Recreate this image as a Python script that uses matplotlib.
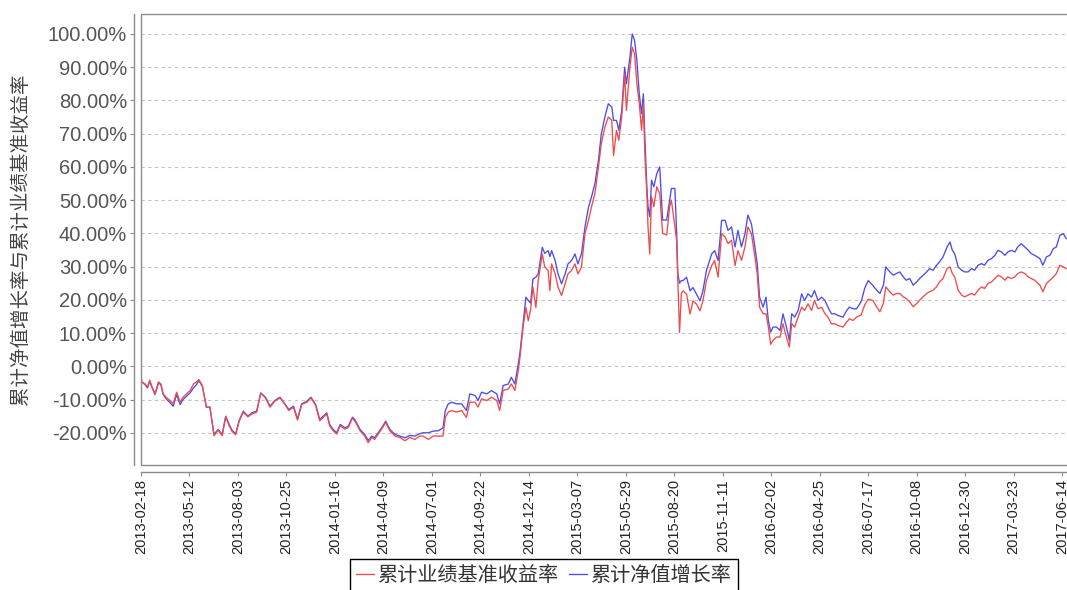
import matplotlib
matplotlib.use("Agg")
import matplotlib.pyplot as plt
from matplotlib.patches import Rectangle
from matplotlib.ticker import FuncFormatter, MultipleLocator, FixedLocator, FixedFormatter
import matplotlib.dates as mdates
import pandas as pd

start_date = "2013-02-18"
days = [0, 1, 7, 11, 15, 18, 24, 30, 34, 38, 44, 50, 55, 61, 67, 72, 78, 84, 90, 95, 99, 105, 112, 118, 125, 132, 139, 145, 151, 156, 162, 168, 175, 183, 190, 198, 205, 213, 221, 229, 238, 245, 253, 261, 268, 275, 284, 291, 299, 306, 312, 318, 323, 329, 335, 341, 349, 355, 362, 366, 375, 383, 389, 395, 400, 406, 412, 419, 426, 435, 443, 452, 460, 469, 477, 483, 492, 500, 509, 517, 521, 526, 532, 540, 549, 557, 563, 572, 577, 583, 592, 600, 609, 614, 620, 629, 634, 640, 646, 649, 654, 659, 663, 667, 671, 676, 680, 687, 691, 697, 700, 703, 709, 714, 720, 726, 731, 737, 743, 748, 754, 760, 766, 771, 777, 783, 788, 794, 800, 806, 809, 814, 818, 823, 828, 831, 837, 841, 845, 849, 853, 857, 860, 863, 866, 868, 871, 874, 878, 883, 888, 893, 900, 905, 908, 914, 917, 919, 922, 925, 928, 934, 940, 945, 951, 957, 962, 968, 977, 982, 988, 994, 1000, 1005, 1011, 1017, 1022, 1028, 1034, 1039, 1045, 1051, 1055, 1059, 1065, 1070, 1074, 1078, 1082, 1088, 1094, 1099, 1105, 1110, 1114, 1119, 1125, 1131, 1136, 1142, 1148, 1153, 1159, 1165, 1171, 1176, 1182, 1188, 1193, 1202, 1208, 1213, 1219, 1225, 1233, 1239, 1245, 1253, 1259, 1265, 1271, 1275, 1282, 1288, 1293, 1299, 1305, 1310, 1316, 1322, 1328, 1333, 1339, 1345, 1350, 1356, 1362, 1367, 1373, 1380, 1385, 1389, 1393, 1399, 1405, 1410, 1416, 1422, 1427, 1433, 1439, 1444, 1450, 1456, 1462, 1467, 1473, 1479, 1484, 1490, 1496, 1501, 1507, 1513, 1519, 1524, 1530, 1539, 1544, 1550, 1556, 1562, 1567, 1573, 1579, 1584]

benchmark = [-1.2, -4.7, -5.3, -6.3, -4.2, -5.8, -8.3, -4.7, -5.3, -8.3, -9.5, -10.3, -11.3, -7.8, -10.8, -9.3, -8.3, -7.3, -5.3, -4.7, -4.0, -5.8, -12.3, -12.3, -20.9, -19.2, -20.9, -15.2, -17.9, -19.6, -20.6, -16.6, -13.8, -15.2, -14.3, -13.8, -8.1, -9.5, -12.3, -10.5, -9.5, -11.1, -13.3, -12.3, -16.2, -11.5, -10.8, -9.5, -11.8, -16.4, -15.4, -14.3, -17.9, -19.4, -20.4, -17.9, -18.9, -18.4, -15.6, -16.4, -19.4, -21.0, -23.0, -21.4, -22.0, -20.4, -18.9, -16.9, -19.4, -21.0, -21.4, -22.4, -21.4, -22.0, -21.0, -21.0, -22.0, -21.0, -21.0, -21.0, -15.4, -13.8, -13.3, -13.8, -13.3, -15.4, -10.8, -10.8, -12.3, -9.8, -10.3, -9.3, -10.3, -13.3, -7.3, -6.8, -5.3, -7.3, -1.2, 3.0, 11.7, 17.7, 13.7, 17.0, 23.8, 17.7, 25.8, 33.8, 30.0, 28.8, 22.8, 30.8, 27.8, 23.8, 21.3, 24.8, 27.8, 28.8, 30.8, 27.8, 29.8, 39.8, 43.8, 47.8, 51.9, 59.8, 66.9, 71.9, 75.0, 74.0, 63.4, 71.0, 68.0, 75.0, 88.0, 77.0, 90.0, 96.0, 94.0, 85.0, 79.0, 71.0, 79.0, 62.0, 52.0, 42.0, 33.8, 51.0, 48.0, 54.0, 52.0, 40.0, 39.5, 48.0, 50.0, 42.0, 38.0, 26.0, 10.2, 21.8, 22.7, 21.7, 15.7, 19.7, 18.7, 16.7, 19.7, 25.8, 30.3, 31.8, 26.8, 39.9, 38.9, 36.9, 37.9, 30.3, 34.8, 31.9, 35.9, 41.9, 39.9, 32.9, 27.8, 17.8, 15.8, 15.8, 11.8, 6.6, 7.8, 8.8, 8.8, 12.8, 8.8, 5.8, 12.8, 11.8, 14.8, 17.8, 16.8, 18.8, 16.8, 19.8, 17.3, 17.8, 15.8, 14.8, 12.8, 12.8, 12.3, 11.8, 13.3, 14.3, 13.8, 14.8, 15.5, 18.5, 20.2, 19.8, 18.0, 16.4, 19.0, 23.9, 22.4, 21.4, 21.9, 21.9, 20.9, 20.4, 19.4, 17.9, 18.9, 19.9, 20.9, 21.9, 22.4, 22.9, 23.9, 25.4, 26.4, 29.4, 29.9, 27.9, 26.9, 22.9, 21.4, 20.9, 21.4, 21.9, 21.4, 22.9, 23.9, 23.4, 24.9, 25.4, 26.4, 27.4, 26.9, 25.9, 26.9, 26.4, 26.9, 27.9, 28.4, 27.9, 26.9, 26.4, 25.9, 24.4, 22.4, 24.9, 25.9, 26.9, 27.9, 30.4, 29.9, 29.4]

nav = [-1.2, -4.7, -5.5, -6.5, -4.5, -6.0, -8.5, -5.0, -5.5, -8.5, -10.0, -11.0, -12.0, -8.5, -11.5, -10.0, -9.0, -8.0, -6.5, -5.5, -4.3, -6.0, -12.3, -12.3, -20.5, -19.0, -20.5, -15.0, -17.5, -19.3, -20.3, -16.3, -13.5, -15.0, -14.0, -13.5, -8.0, -9.3, -12.0, -10.3, -9.3, -11.0, -13.0, -12.0, -15.8, -11.3, -10.5, -9.3, -11.5, -16.0, -15.0, -14.0, -17.5, -19.0, -20.0, -17.5, -18.5, -18.0, -15.3, -16.0, -19.0, -20.5, -22.3, -21.0, -21.5, -20.0, -18.5, -16.5, -19.0, -20.5, -21.0, -21.5, -20.8, -21.0, -20.3, -20.0, -20.0, -19.5, -19.4, -18.5, -13.3, -11.3, -10.8, -11.3, -11.3, -13.3, -8.3, -8.8, -10.3, -7.8, -8.3, -7.3, -8.3, -11.3, -5.8, -5.3, -3.3, -5.3, 0.8, 4.5, 12.7, 20.8, 19.8, 19.0, 26.3, 26.8, 27.8, 35.8, 34.0, 34.8, 33.0, 34.8, 31.8, 27.8, 24.8, 27.8, 30.8, 31.8, 33.8, 30.8, 33.8, 41.8, 47.8, 50.8, 54.9, 61.8, 69.9, 74.9, 79.0, 78.0, 74.0, 74.0, 71.0, 77.0, 90.0, 85.0, 93.0, 100.0, 98.0, 92.0, 82.0, 76.0, 82.0, 67.0, 54.0, 48.0, 45.0, 56.0, 54.0, 58.0, 60.0, 44.0, 44.0, 50.0, 53.5, 53.5, 40.0, 28.0, 25.0, 25.8, 25.8, 26.8, 22.7, 23.7, 21.7, 19.7, 22.7, 28.8, 33.8, 34.8, 31.8, 43.9, 43.9, 40.9, 41.9, 35.9, 40.9, 35.9, 39.9, 45.5, 42.9, 35.9, 30.8, 20.8, 17.8, 20.8, 13.8, 10.3, 11.8, 11.8, 10.8, 15.8, 11.8, 7.8, 15.8, 14.8, 16.8, 21.8, 19.8, 21.8, 20.8, 22.8, 19.8, 20.8, 19.8, 17.8, 15.8, 15.8, 15.3, 14.8, 16.8, 17.8, 17.3, 17.3, 19.5, 23.5, 25.8, 24.3, 23.0, 21.9, 24.4, 29.9, 28.4, 27.4, 27.9, 28.4, 26.9, 25.9, 26.4, 24.4, 25.4, 26.4, 27.4, 28.4, 29.4, 28.9, 30.4, 31.4, 32.9, 35.9, 37.4, 34.9, 33.9, 29.9, 28.9, 28.4, 28.4, 29.4, 28.9, 30.4, 30.9, 30.4, 31.9, 32.4, 33.4, 34.9, 34.4, 33.4, 34.4, 34.9, 34.4, 35.9, 36.9, 35.9, 34.9, 33.9, 33.4, 32.4, 30.4, 32.9, 33.4, 35.4, 35.9, 39.4, 39.9, 38.4]

tick_labels = ["2013-02-18", "2013-05-12", "2013-08-03", "2013-10-25", "2014-01-16",
               "2014-04-09", "2014-07-01", "2014-09-22", "2014-12-14", "2015-03-07",
               "2015-05-29", "2015-08-20", "2015-11-11", "2016-02-02", "2016-04-25",
               "2016-07-17", "2016-10-08", "2016-12-30", "2017-03-23", "2017-06-14"]

label_bench = "累计业绩基准收益率"
label_nav = "累计净值增长率"
y_label = "累计净值增长率与累计业绩基准收益率"

cjk = ["Noto Sans CJK SC", "DejaVu Sans"]
plt.rcParams["font.family"] = ["Liberation Sans", "Noto Sans CJK SC", "DejaVu Sans"]

dates = pd.Timestamp(start_date) + pd.to_timedelta(days, unit="D")

W, H = 1067, 590
fig = plt.figure(figsize=(W / 100, H / 100), dpi=100)
left, right, top, bottom = 141, 1068, 14, 465
ax = fig.add_axes([left / W, (H - bottom) / H, (right - left) / W, (bottom - top) / H])

l_nav, = ax.plot(dates, nav, color="#4B4BEE", lw=0.95, label=label_nav, zorder=3)
l_bench, = ax.plot(dates, benchmark, color="#EE4B4B", lw=0.95, label=label_bench, zorder=4)

ax.set_ylim(-29.7, 106.0)
x0 = pd.Timestamp(start_date)
ax.set_xlim(x0, x0 + pd.Timedelta(days=1587))

ax.yaxis.set_major_locator(MultipleLocator(10))
ax.yaxis.set_major_formatter(FuncFormatter(lambda v, p: f"{v:.2f}%"))
ax.grid(axis="y", color="#C4C4C4", linestyle=(0, (3, 3)), linewidth=0.8)
ax.grid(axis="x", visible=False)
ax.set_axisbelow(True)

tick_pos = mdates.date2num(pd.to_datetime(tick_labels).to_pydatetime())
ax.xaxis.set_major_locator(FixedLocator(tick_pos))
ax.xaxis.set_major_formatter(FixedFormatter(tick_labels))

for s in ["top", "right"]:
    ax.spines[s].set_visible(False)
for s in ["left", "bottom"]:
    ax.spines[s].set_position(("outward", 5))
    ax.spines[s].set_color("#8C8C8C")
    ax.spines[s].set_linewidth(1.0)

ax.tick_params(axis="y", labelsize=14.5, labelcolor="#555555", length=3, color="#8C8C8C", pad=2)
ax.tick_params(axis="x", labelsize=10.5, labelcolor="#222222", labelrotation=90,
               length=3, color="#8C8C8C", pad=2)

frame = Rectangle((0, 0), 1, 1, transform=ax.transAxes, fill=False,
                  edgecolor="#8C8C8C", linewidth=1.0, clip_on=False, zorder=5)
ax.add_patch(frame)

fig.text(20 / W, (H - 239) / H, y_label, rotation=90, ha="center", va="center",
         fontsize=14, color="#444444", family=cjk)

leg = fig.legend([l_bench, l_nav], [label_bench, label_nav],
                 loc="upper center", bbox_to_anchor=(544 / W, (H - 559) / H), ncol=2,
                 frameon=True, fancybox=False, edgecolor="black", framealpha=1,
                 handlelength=0.9, handletextpad=0.2, columnspacing=0.5,
                 borderpad=0.3, borderaxespad=0.0, prop={"family": cjk, "size": 14.5})
leg.get_frame().set_linewidth(1.0)
for t in leg.get_texts():
    t.set_color("#333333")

fig.savefig("out.png", dpi=100)
